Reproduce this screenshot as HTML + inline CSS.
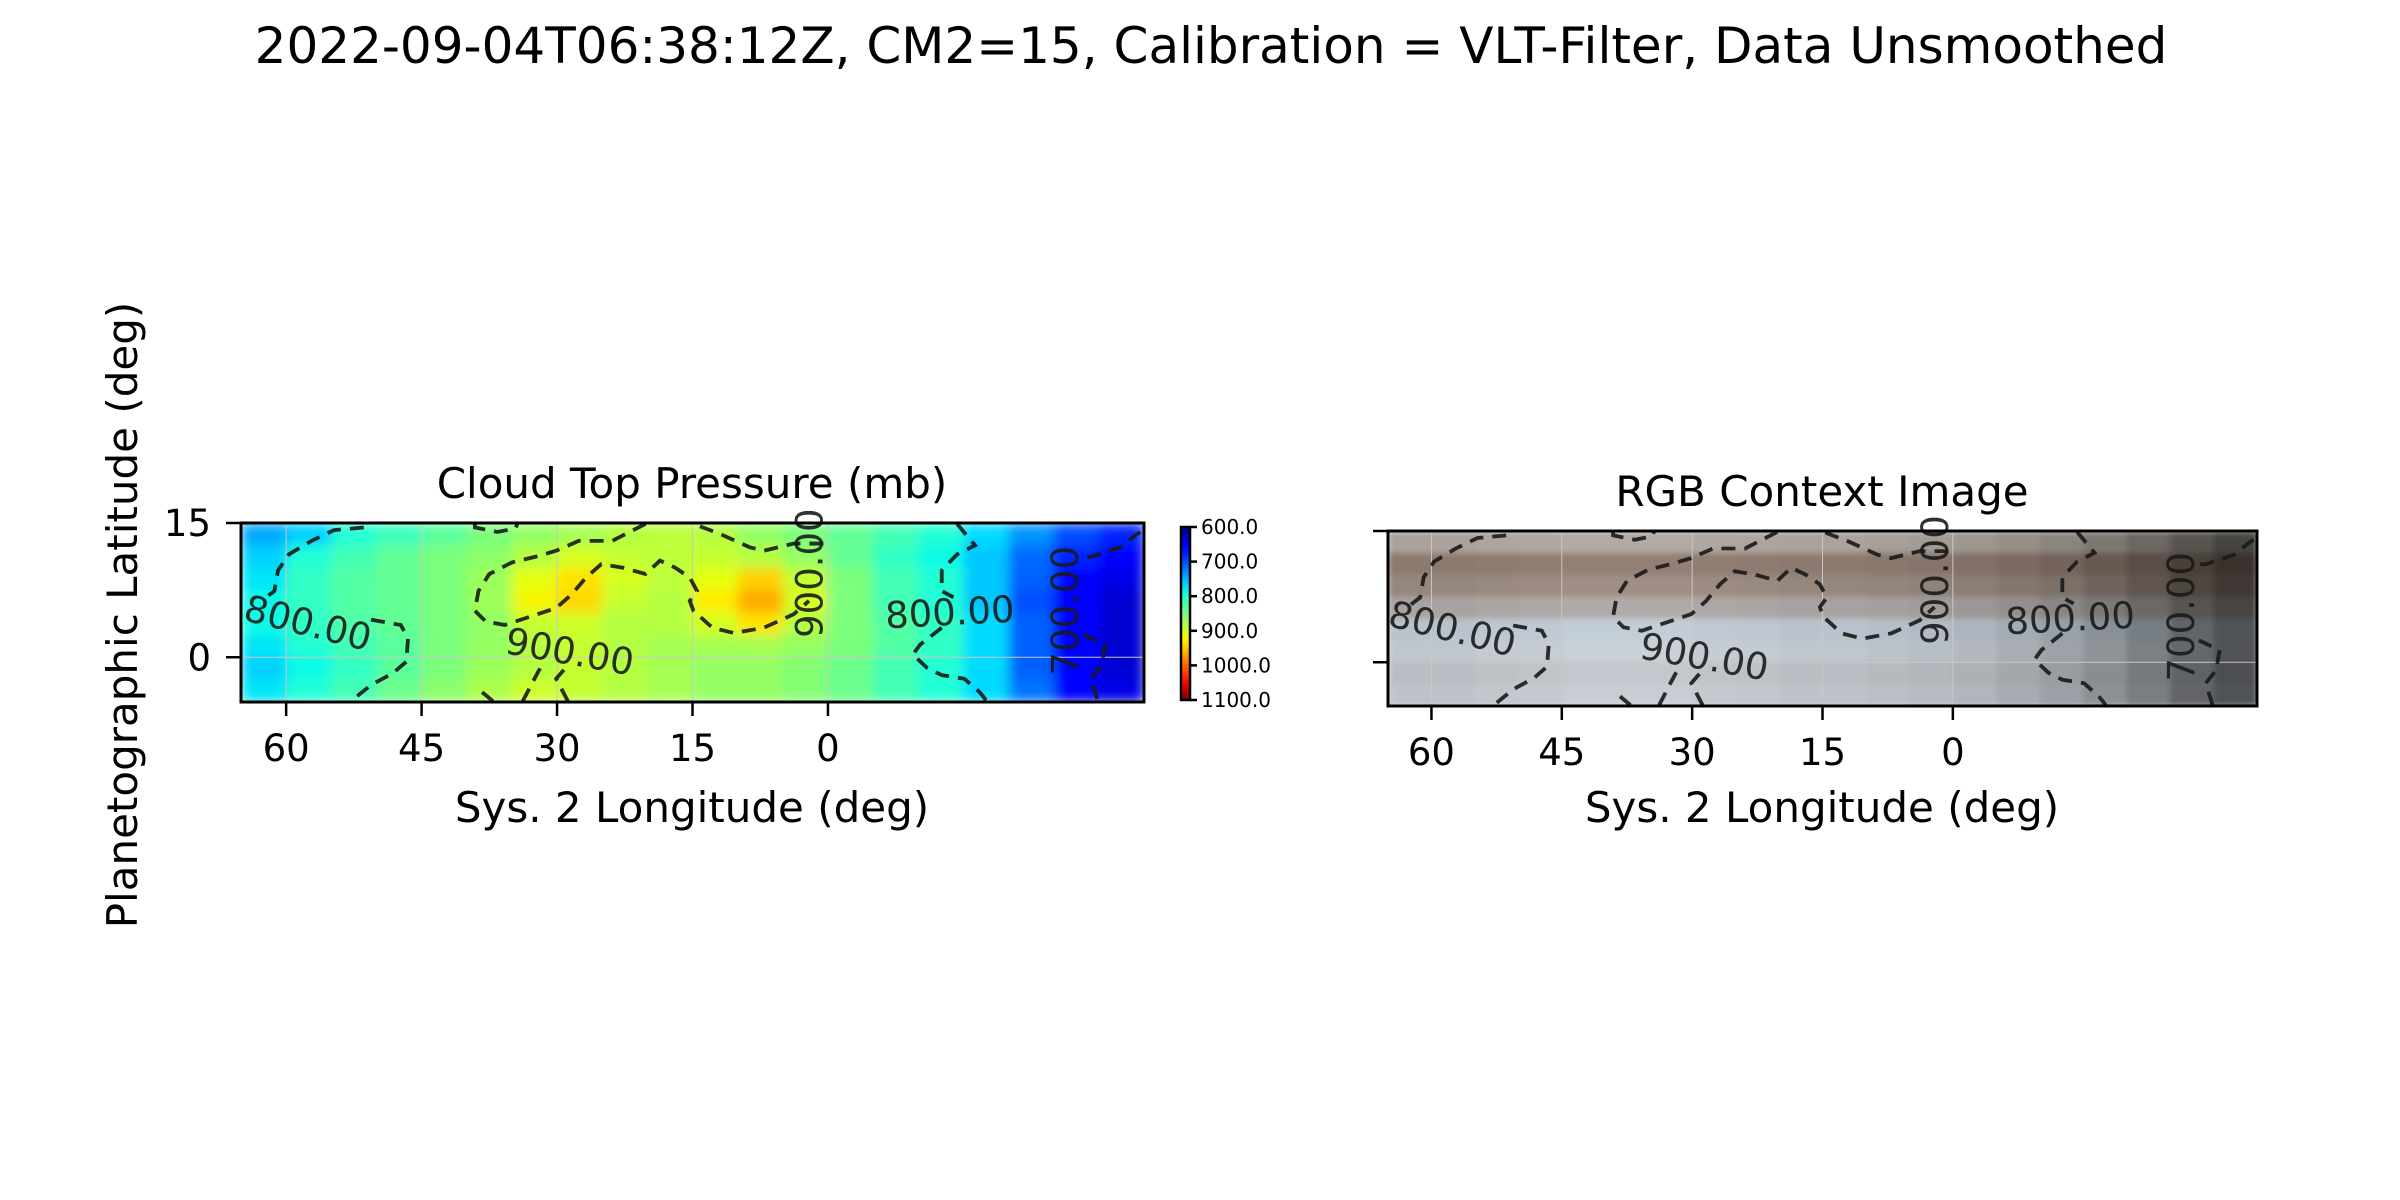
<!DOCTYPE html>
<html><head><meta charset="utf-8">
<style>
html,body{margin:0;padding:0;background:#fff;}
svg{display:block;font-family:"DejaVu Sans","Liberation Sans",sans-serif;}
</style></head>
<body>
<svg id="fig" width="2400" height="1200" viewBox="0 0 2400 1200" xmlns="http://www.w3.org/2000/svg">
<defs>
<filter id="blurP" x="0" y="0" width="1" height="1"><feGaussianBlur stdDeviation="6" edgeMode="duplicate"/></filter>
<filter id="blurR" x="0" y="0" width="1" height="1"><feGaussianBlur stdDeviation="3" edgeMode="duplicate"/></filter>
</defs>
<rect width="2400" height="1200" fill="#fff"/>
<text x="1211" y="63" font-size="50" text-anchor="middle">2022-09-04T06:38:12Z, CM2=15, Calibration = VLT-Filter, Data Unsmoothed</text>
<text transform="translate(137,615) rotate(-90)" font-size="42" text-anchor="middle">Planetographic Latitude (deg)</text>
<text x="692" y="498" font-size="42" text-anchor="middle">Cloud Top Pressure (mb)</text>
<text x="1822" y="506" font-size="42" text-anchor="middle">RGB Context Image</text>
<text x="692" y="822" font-size="42" text-anchor="middle">Sys. 2 Longitude (deg)</text>
<text x="1822" y="822" font-size="42" text-anchor="middle">Sys. 2 Longitude (deg)</text>
<g id="left"></g>
<g id="right"></g>
<g id="cbar"></g>
</svg>
<script>
// ---- data ----
const lonEdges = [65, -35];
const latEdges = [15, -5];
const xTicks = [60, 45, 30, 15, 0];
const yTicks = [15, 0];
const cbarTicks = [600, 700, 800, 900, 1000, 1100];
// pressure grid: rows lat 15 -> -5 (2.5 deg), cols lon 65 -> -35 (5 deg)
const pressureRows = [
 [745,765,795,810,830,850,865,875,885,890,885,865,850,835,815,795,770,735,700,680],
 [765,795,815,835,850,860,885,905,895,890,895,885,865,835,805,785,760,715,680,660],
 [775,805,825,835,850,870,915,935,905,890,915,945,895,850,815,795,760,710,665,645],
 [785,805,825,835,850,870,925,940,895,885,930,965,905,850,815,795,760,700,655,635],
 [785,805,825,835,850,865,895,900,885,885,905,935,885,850,825,805,770,710,655,635],
 [775,795,815,830,850,865,885,895,885,875,875,875,865,850,825,805,770,710,655,635],
 [765,785,805,830,850,870,885,895,885,875,865,865,855,840,815,795,770,710,655,635],
 [775,795,815,840,860,880,900,895,885,875,865,865,855,840,815,795,770,720,665,645]
];
// RGB context: row base colours and column brightness
const rgbRows = [
 [170,162,155],[140,122,110],[150,135,125],[168,162,160],
 [185,195,205],[192,198,205],[186,190,195],[190,195,202]
];
const rgbColShade = [1.0,1.0,1.02,1.03,1.05,1.05,1.05,1.03,1.02,1.0,1.0,0.98,0.96,0.93,0.88,0.82,0.74,0.64,0.52,0.42];
// contours in [lon, lat]
const contours = [
 [[51.4,14.5],[54.7,14.2],[57.2,13.0],[59.7,11.5],[60.9,9.7],[61.3,7.4],[62.5,6.5]],
 [[50.6,4.2],[47.3,3.6],[46.5,2.1],[46.7,-0.5],[48.2,-1.8],[50.6,-3.1],[52.7,-4.8]],
 [[39.1,14.9],[39.1,14.5],[36.6,14.0],[34.6,14.4],[34.4,14.9]],
 [[20.2,14.9],[23.9,13.0],[27.6,13.0],[30.1,11.9],[32.5,11.2],[35.0,10.6],[37.5,9.3],[38.7,7.4],[39.1,5.2],[37.9,4.0],[35.8,3.6],[33.4,4.4],[30.1,5.5],[28.4,7.0],[26.8,8.9],[25.1,10.4],[22.7,10.0],[20.2,9.3],[18.6,10.8],[16.9,10.0],[15.3,8.9],[14.5,7.4],[15.3,6.3],[14.9,5.2],[12.8,3.3],[10.4,2.7],[7.1,3.3],[3.8,4.8],[2.1,6.3]],
 [[0.5,12.7],[3.8,12.7],[7.1,11.9],[8.7,12.3],[12.0,13.8],[14.9,14.9]],
 [[38.3,-3.9],[37.1,-4.9]],
 [[33.8,-4.9],[32.5,-2.4],[31.7,-0.9]],
 [[28.8,-4.9],[30.1,-2.4],[28.8,-0.9]],
 [[-14.3,14.9],[-16.3,12.5],[-14.3,11.5],[-12.6,9.7],[-12.6,7.4],[-13.9,6.7]],
 [[-12.6,3.3],[-10.2,1.4],[-9.4,0.3],[-11.0,-1.2],[-12.6,-2.0],[-15.1,-2.4],[-16.8,-3.9],[-17.6,-4.9]],
 [[-34.6,14.0],[-34.0,13.6],[-32.4,12.3],[-29.1,11.2],[-27.4,11.2]],
 [[-28.3,2.5],[-30.7,1.4],[-30.3,-0.9],[-29.1,-2.4],[-29.9,-4.9]]
];
const contourLabels = ["800.00","900.00","900.00","800.00","700.00"];
const labelPos = [[57.6,3.8],[28.6,0.6],[2.0,9.4],[-13.5,5.0],[-26.3,5.2]];
const labelRot = [14,10,-90,-3,-90];

const NS = "http://www.w3.org/2000/svg";
function mk(tag, attrs, parent){const e=document.createElementNS(NS,tag);for(const k in attrs)e.setAttribute(k,attrs[k]);parent.appendChild(e);return e;}
function jet(s){s=Math.max(0,Math.min(1,s));
 const r=s<0.35?0:s<0.66?(s-0.35)/0.31:s<0.89?1:1-0.5*(s-0.89)/0.11;
 const g=s<0.125?0:s<0.375?(s-0.125)/0.25:s<0.64?1:s<0.91?1-(s-0.64)/0.27:0;
 const b=s<0.11?0.5+0.5*s/0.11:s<0.34?1:s<0.65?1-(s-0.34)/0.31:0;
 return `rgb(${Math.round(r*255)},${Math.round(g*255)},${Math.round(b*255)})`;}
function pColor(v){return jet((v-600)/500);}

function panel(gid, L, R, T, B, mode){
 const g=document.getElementById(gid);
 const xs=lon=>L+(lonEdges[0]-lon)/(lonEdges[0]-lonEdges[1])*(R-L);
 const ys=lat=>T+(latEdges[0]-lat)/(latEdges[0]-latEdges[1])*(B-T);
 const nr=pressureRows.length, nc=pressureRows[0].length;
 const dLat=(latEdges[0]-latEdges[1])/nr, dLon=(lonEdges[0]-lonEdges[1])/nc;
 const cp=mk('clipPath',{id:'clip-'+gid},g);
 mk('rect',{x:L,y:T,width:R-L,height:B-T},cp);
 const outer=mk('g',{'clip-path':'url(#clip-'+gid+')'},g);
 const img=mk('g',{filter:mode==='p'?'url(#blurP)':'url(#blurR)'},outer);
 
 
 for(let i=0;i<nr;i++)for(let j=0;j<nc;j++){
  const x0=xs(lonEdges[0]-j*dLon), x1=xs(lonEdges[0]-(j+1)*dLon);
  const y0=ys(latEdges[0]-i*dLat), y1=ys(latEdges[0]-(i+1)*dLat);
  let fill;
  if(mode==='p') fill=pColor(pressureRows[i][j]);
  else {const c=rgbRows[i],f=rgbColShade[j];fill=`rgb(${Math.round(c[0]*f)},${Math.round(c[1]*f)},${Math.round(c[2]*f)})`;}
  const r=mk('rect',{x:x0,y:y0,width:x1-x0+0.6,height:y1-y0+0.6,fill:fill},img);
  
  
 }
 // grid
 xTicks.forEach(t=>mk('line',{x1:xs(t),x2:xs(t),y1:T,y2:B,stroke:'#c8c8c8','stroke-width':1},g));
 yTicks.forEach(t=>mk('line',{x1:L,x2:R,y1:ys(t),y2:ys(t),stroke:'#c8c8c8','stroke-width':1},g));
 // contours
 const cg=mk('g',{'clip-path':'url(#clip-'+gid+')'},g);
 contours.forEach(c=>{
  const p=mk('polyline',{points:c.map(q=>xs(q[0])+','+ys(q[1])).join(' '),fill:'none',stroke:'#1a1a1a','stroke-width':3.8,'stroke-dasharray':'14,9','stroke-opacity':0.9},cg);
  
  
 });
 contourLabels.forEach((s,i)=>{
  const x=xs(labelPos[i][0]), y=ys(labelPos[i][1]);
  const t=mk('text',{x:x,y:y,'font-size':37,'text-anchor':'middle','dominant-baseline':'central',fill:'#1a1a1a','fill-opacity':0.9,transform:`rotate(${labelRot[i]} ${x} ${y})`},g);
  t.textContent=s;
  
  
 });
 mk('rect',{x:L,y:T,width:R-L,height:B-T,fill:'none',stroke:'#000','stroke-width':3},g);
 xTicks.forEach(t=>{
  mk('line',{x1:xs(t),x2:xs(t),y1:B,y2:B+14,stroke:'#000','stroke-width':2.5},g);
  const lb=mk('text',{x:xs(t),y:B+59,'font-size':37,'text-anchor':'middle'},g);
  lb.textContent=t;
  
  
 });
 yTicks.forEach(t=>{
  mk('line',{x1:L-15,x2:L,y1:ys(t),y2:ys(t),stroke:'#000','stroke-width':2.5},g);
  if(mode==='p'){
   const lb=mk('text',{x:L-30,y:ys(t)+13,'font-size':37,'text-anchor':'end'},g);
   lb.textContent=t;
   
   
  }
 });
}
panel('left',241,1144,523,702,'p');
panel('right',1388,2257,531,706,'rgb');

// colorbar
(function(){
 const g=document.getElementById('cbar');
 const L=1181,R=1190,T=527,B=700;
 const cs=v=>T+(v-cbarTicks[0])/(cbarTicks[cbarTicks.length-1]-cbarTicks[0])*(B-T);
 const defs=mk('defs',{},g);
 const lg=mk('linearGradient',{id:'jetg',x1:0,y1:0,x2:0,y2:1},defs);
 for(let k=0;k<=20;k++){mk('stop',{offset:k/20,'stop-color':jet(k/20)},lg);}
 const bar=mk('rect',{x:L,y:T,width:R-L,height:B-T,fill:'url(#jetg)',stroke:'#000','stroke-width':2.5},g);
 
 
 cbarTicks.forEach(v=>{
  mk('line',{x1:R,x2:R+7,y1:cs(v),y2:cs(v),stroke:'#000','stroke-width':2.5},g);
  const t=mk('text',{x:R+11,y:cs(v)+7,'font-size':20},g);
  t.textContent=v.toFixed(1);
  
  
 });
})();
</script>
</body></html>
